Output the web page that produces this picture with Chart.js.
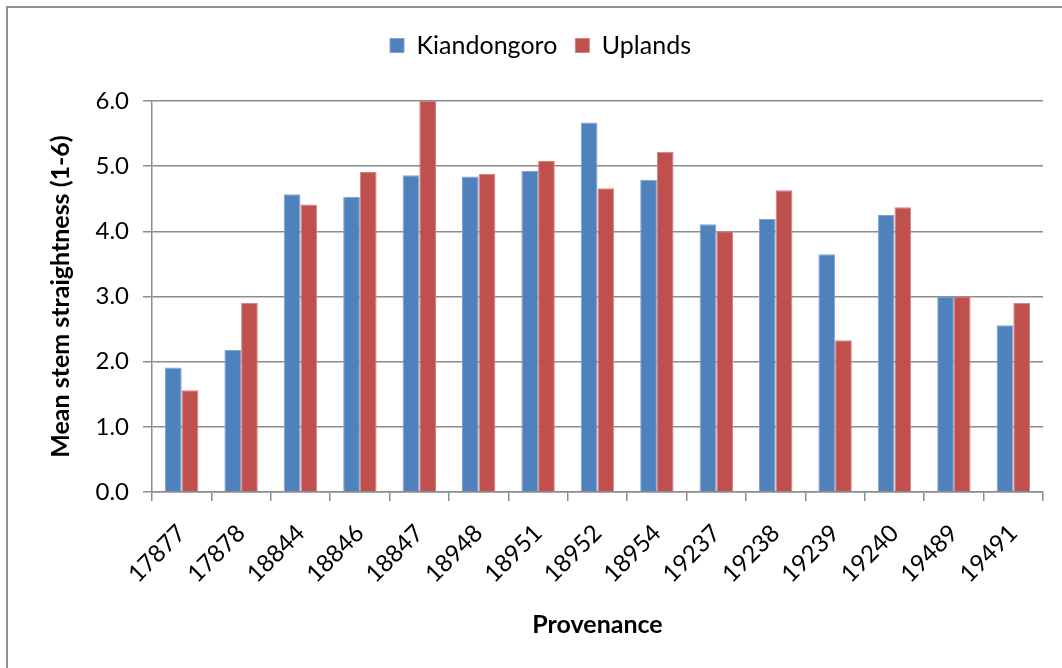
<!DOCTYPE html>
<html>
<head>
<meta charset="utf-8">
<title>Mean stem straightness by provenance</title>
<script src="https://cdn.jsdelivr.net/npm/chart.js@4"></script>
<style>
  html, body { margin: 0; padding: 0; background: #fff; overflow: hidden; }
  #frame {
    position: absolute; left: 6px; top: 6px; width: 1200px; height: 800px;
    border: 2px solid #8e8e8e; box-sizing: border-box;
  }
  #wrap { position: absolute; left: 0; top: 0; width: 1062px; height: 668px; }
</style>
</head>
<body>
<div id="frame"></div>
<div id="wrap"><canvas id="stemChart" width="1062" height="668"></canvas></div>
<script>
  // provenances on the x axis
  const provenances = ['17877', '17878', '18844', '18846', '18847', '18948', '18951', '18952',
    '18954', '19237', '19238', '19239', '19240', '19489', '19491'];
  // mean straightness score per site (1-6 scale)
  const kiandongoro = [1.91, 2.18, 4.57, 4.53, 4.86, 4.84, 4.93, 5.67, 4.79, 4.11, 4.19, 3.65, 4.25, 3.00, 2.56];
  const uplands = [1.56, 2.90, 4.41, 4.91, 6.00, 4.88, 5.08, 4.66, 5.22, 4.00, 4.63, 2.33, 4.37, 3.00, 2.90];
  const yTicks = [0, 1, 2, 3, 4, 5, 6];

  const FONT = 'Lato, "Open Sans", sans-serif';
  const GRID = '#8c8c8c';

  // pin the legend block so the plot starts at a fixed height
  const legendHeight = {
    id: 'legendHeight',
    beforeInit(chart) {
      const fit = chart.legend.fit;
      chart.legend.fit = function () {
        fit.bind(chart.legend)();
        this.height = 86;
      };
    }
  };

  new Chart(document.getElementById('stemChart'), {
    type: 'bar',
    data: {
      labels: provenances,
      datasets: [
        { label: 'Kiandongoro', data: kiandongoro, backgroundColor: '#4f81bd',
          borderColor: '#7fa3cf', borderWidth: 1 },
        { label: 'Uplands', data: uplands, backgroundColor: '#c0504d',
          borderColor: '#d48381', borderWidth: 1 }
      ]
    },
    options: {
      responsive: false,
      animation: false,
      devicePixelRatio: 1,
      categoryPercentage: 0.5625,
      barPercentage: 1.0,
      layout: { padding: { left: 38, right: 19, top: 15, bottom: 28 } },
      plugins: {
        legend: {
          position: 'top',
          align: 'center',
          labels: {
            color: '#000',
            font: { family: FONT, size: 25 },
            boxWidth: 14, boxHeight: 14,
            padding: 18
          }
        },
        tooltip: { enabled: false }
      },
      scales: {
        x: {
          grid: { offset: true, drawOnChartArea: false, drawTicks: true, tickLength: 9,
            color: GRID, lineWidth: 1.5 },
          border: { display: true, color: GRID, width: 1.5 },
          ticks: {
            autoSkip: false, maxRotation: 45, minRotation: 45,
            color: '#000', padding: 18,
            font: { family: FONT, size: 24 }
          },
          title: {
            display: true, text: 'Provenance', color: '#000',
            font: { family: FONT, size: 25, weight: 'bold' }, padding: 0
          },
          afterFit(scale) { scale.height = 148; }
        },
        y: {
          min: 0, max: 6,
          afterBuildTicks(scale) { scale.ticks = yTicks.map(v => ({ value: v })); },
          grid: { color: GRID, lineWidth: 1.5, tickLength: 9, drawTicks: true },
          border: { display: true, color: GRID, width: 1.5 },
          ticks: {
            color: '#000', padding: 14,
            font: { family: FONT, size: 24 },
            callback: v => Number(v).toFixed(1)
          },
          title: {
            display: true, text: 'Mean stem straightness (1-6)', color: '#000',
            font: { family: FONT, size: 25, weight: 'bold' }, padding: { top: 8, bottom: 0 }
          },
          afterFit(scale) { scale.width = 114; }
        }
      }
    },
    plugins: [legendHeight]
  });
</script>
</body>
</html>
